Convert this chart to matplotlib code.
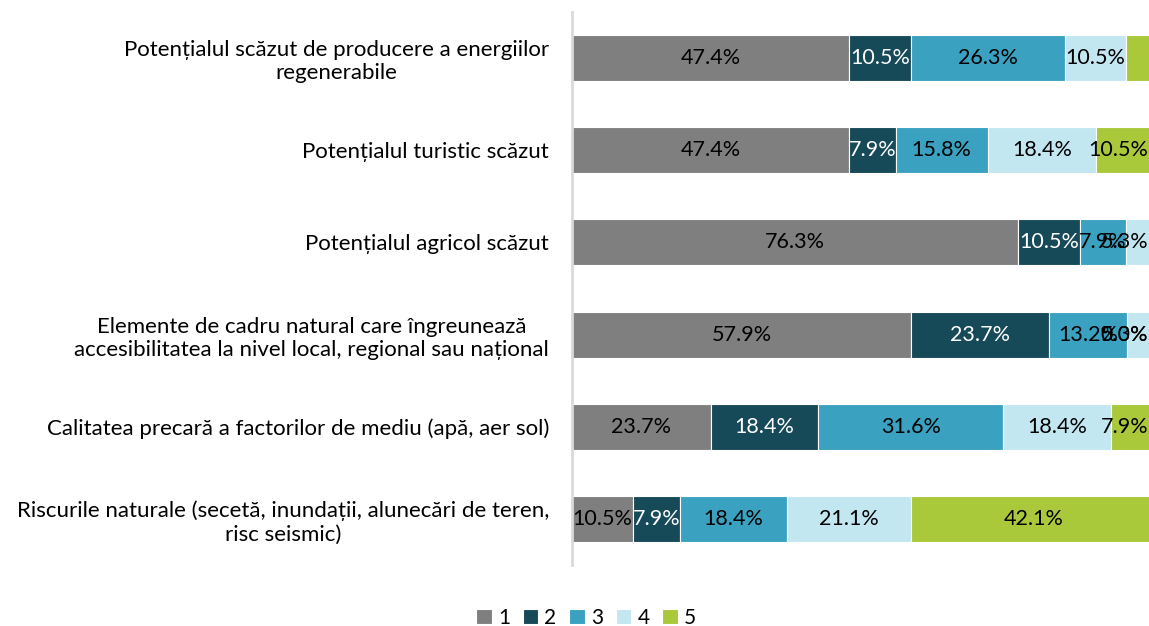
import numpy as np
import matplotlib.pyplot as plt

plt.rcParams['font.family'] = ['Lato', 'DejaVu Sans']

# categories, top to bottom
categories = [
    'Potențialul scăzut de producere a energiilor\nregenerabile',
    'Potențialul turistic scăzut',
    'Potențialul agricol scăzut',
    'Elemente de cadru natural care îngreunează\naccesibilitatea la nivel local, regional sau național',
    'Calitatea precară a factorilor de mediu (apă, aer sol)',
    'Riscurile naturale (secetă, inundații, alunecări de teren,\nrisc seismic)',
]
series_names = ['1', '2', '3', '4', '5']
s1 = [47.4, 47.4, 76.3, 57.9, 23.7, 10.5]
s2 = [10.5, 7.9, 10.5, 23.7, 18.4, 7.9]
s3 = [26.3, 15.8, 7.9, 13.2, 31.6, 18.4]
s4 = [10.5, 18.4, 5.3, 5.3, 18.4, 21.1]
s5 = [5.3, 10.5, 0.0, 0.0, 7.9, 42.1]
# labels Excel did not draw (row, series)
hidden = [(0, 4), (2, 4)]

colors = ['#7f7f7f', '#174a58', '#3ba1c0', '#c3e7f1', '#aac93a']
text_colors = ['black', 'white', 'black', 'black', 'black']

data = np.array([s1, s2, s3, s4, s5])
y = np.arange(len(categories))

fig = plt.figure(figsize=(11.49, 6.26), dpi=100)
ax = fig.add_axes([572/1149, (626-565)/626, 585/1149, 553/626])

labels = []
left = np.zeros(len(categories))
for k in range(len(series_names)):
    ax.barh(y, data[k], left=left, height=0.5, color=colors[k],
            label=series_names[k], edgecolor='white', linewidth=0.8)
    for i in range(len(categories)):
        if (i, k) in hidden:
            continue
        cx = left[i] + data[k][i] / 2
        t = ax.text(cx, y[i], '%.1f%%' % data[k][i], ha='center', va='center',
                    fontsize=15.5, color=text_colors[k], clip_on=False)
        labels.append(t)
    left += data[k]

ax.set_xlim(0, 100)
ax.set_ylim(len(categories) - 0.5, -0.5)
ax.set_yticks(y)
ax.set_yticklabels(categories, fontsize=16, multialignment='center')
ax.tick_params(axis='y', length=0, pad=16.5)
ax.set_xticks([])
for s in ['top', 'right', 'bottom']:
    ax.spines[s].set_visible(False)
ax.spines['left'].set_color('#d9d9d9')
ax.spines['left'].set_linewidth(2)

# like Excel, keep labels inside the chart area on the right
fig.canvas.draw()
r = fig.canvas.get_renderer()
fig_w = fig.bbox.width
for t in labels:
    bb = t.get_window_extent(r)
    if bb.x1 > fig_w:
        x_disp, y_disp = ax.transData.transform(t.get_position())
        x_new = ax.transData.inverted().transform((x_disp - (bb.x1 - fig_w) - 1, y_disp))[0]
        t.set_x(x_new)

fig.legend(loc='center', bbox_to_anchor=(586/1149, 1 - 618/626), ncol=5,
           frameon=False, fontsize=15, handlelength=0.75, handleheight=0.75,
           handletextpad=0.3, columnspacing=0.6)

fig.savefig('out.png', dpi=100)
